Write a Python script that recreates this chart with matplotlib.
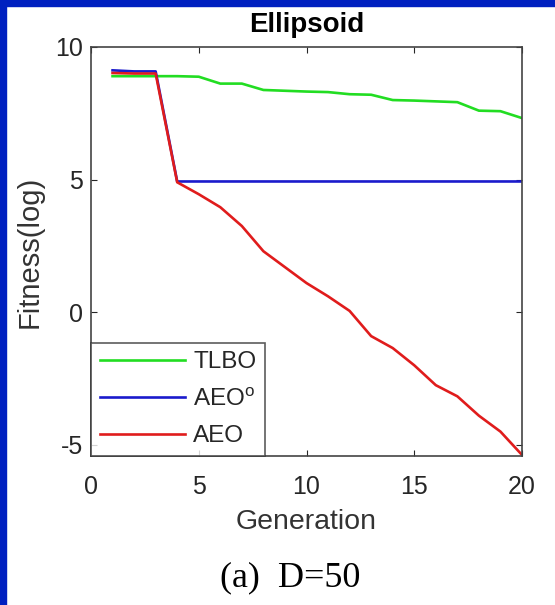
import numpy as np
import matplotlib.pyplot as plt
from matplotlib.patches import Rectangle

# generations and fitness values (log scale)
generation = np.arange(1, 21)
tlbo = [8.9, 8.9, 8.9, 8.9, 8.88, 8.62, 8.62, 8.38, 8.35, 8.32,
        8.3, 8.22, 8.2, 8.0, 7.98, 7.95, 7.92, 7.6, 7.58, 7.32]
aeo_o = [9.12, 9.08, 9.08, 4.93, 4.93, 4.93, 4.93, 4.93, 4.93, 4.93,
         4.93, 4.93, 4.93, 4.93, 4.93, 4.93, 4.93, 4.93, 4.93, 4.93]
aeo = [9.02, 9.0, 9.0, 4.9, 4.45, 3.96, 3.25, 2.3, 1.7, 1.1,
       0.6, 0.05, -0.9, -1.35, -2.0, -2.75, -3.17, -3.9, -4.5, -5.38]

labels = ['TLBO', r'AEO$^{\mathrm{o}}$', 'AEO']
colors = ['#22dd22', '#1a1acc', '#e01c1c']

plt.rcParams['font.family'] = ['Liberation Sans', 'DejaVu Sans']
plt.rcParams['axes.unicode_minus'] = False
plt.rcParams['mathtext.fontset'] = 'custom'
plt.rcParams['mathtext.rm'] = 'Liberation Sans'

fig = plt.figure(figsize=(5.55, 6.05), dpi=100)
# blue frame on the left and top of the picture
fig.patches.append(Rectangle((0, 0), 6 / 555, 1, transform=fig.transFigure,
                             color='#0020c0', zorder=10))
fig.patches.append(Rectangle((0, 1 - 6 / 605), 1, 6 / 605, transform=fig.transFigure,
                             color='#0020c0', zorder=10))

ax = fig.add_axes([91 / 555, 1 - 456 / 605, (522 - 91) / 555, (456 - 47) / 605])
for y, lab, c in zip([tlbo, aeo_o, aeo], labels, colors):
    ax.plot(generation, y, color=c, lw=1.9, label=lab)

ax.set_xlim(0, 20)
ax.set_ylim(-5.42, 10)
ax.set_xticks([0, 5, 10, 15, 20])
ax.set_yticks([-5, 0, 5, 10])
ax.tick_params(direction='in', top=True, right=True, labelsize=18,
               colors='#262626', length=4)
ax.tick_params(axis='x', pad=14)
ax.tick_params(axis='y', pad=6)
for s in ax.spines.values():
    s.set_color('#444444')
    s.set_linewidth(1.2)

ax.set_title('Ellipsoid', fontsize=20, fontweight='bold', pad=11)
ax.set_xlabel('Generation', fontsize=20.5, color='#333333', labelpad=7)
ax.set_ylabel('Fitness(log)', fontsize=21, color='#333333', labelpad=8)

leg = ax.legend(loc='lower left', fontsize=17.5, frameon=True, fancybox=False,
                borderaxespad=0, handlelength=3.5, handletextpad=0.35,
                labelspacing=0.6, borderpad=0.35)
leg.get_frame().set_edgecolor('#333333')
leg.get_frame().set_linewidth(1.2)
for t in leg.get_texts():
    t.set_color('#262626')

fig.text(290 / 555, 1 - 578 / 605, '(a)  D=50', ha='center', va='center',
         fontsize=26, family='Liberation Serif')

fig.savefig('out.png', dpi=100)
